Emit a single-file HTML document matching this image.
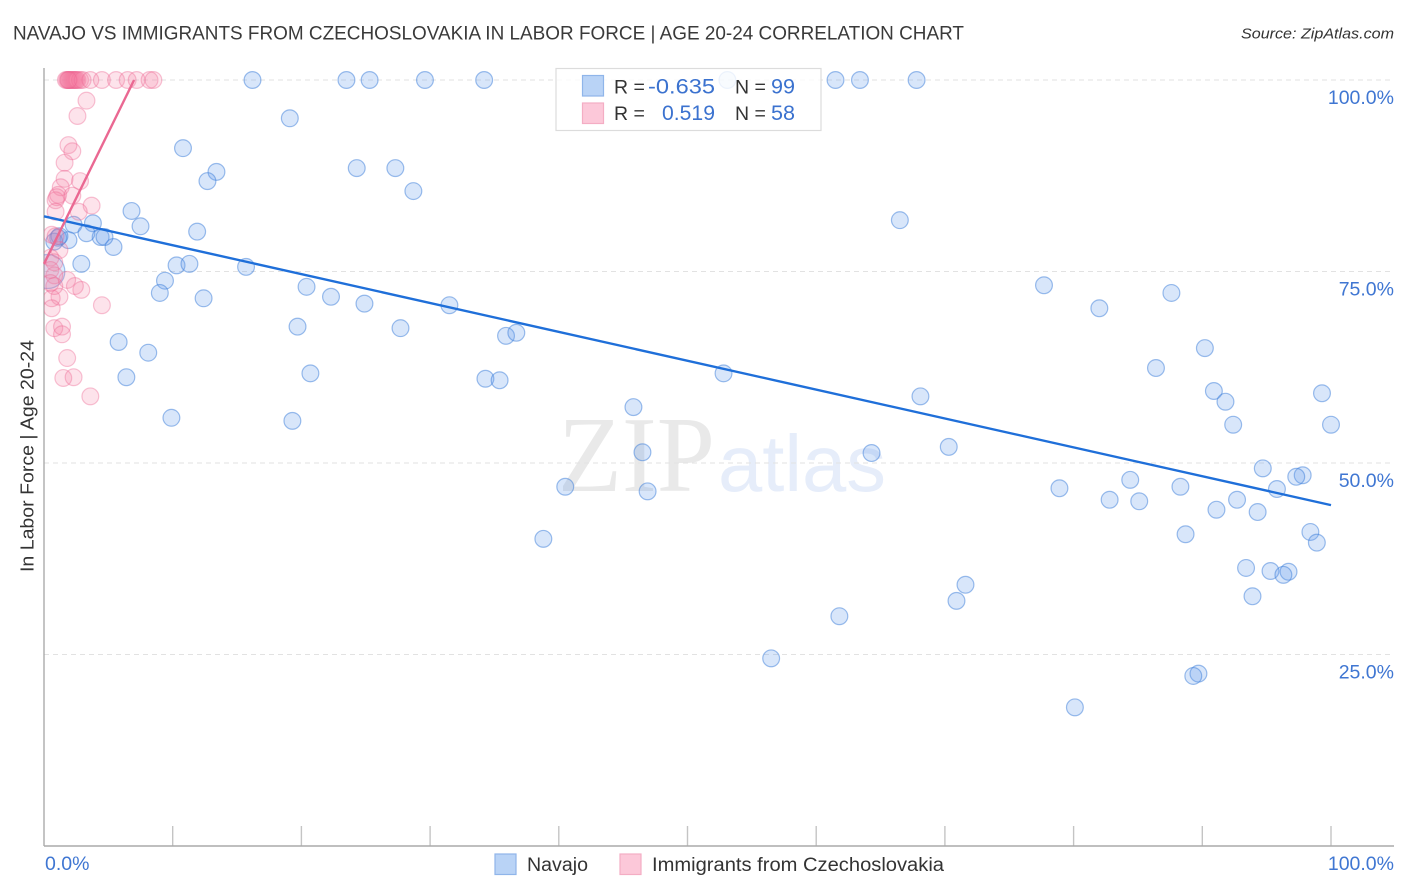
<!DOCTYPE html>
<html lang="en">
<head>
<meta charset="utf-8">
<title>Navajo vs Immigrants from Czechoslovakia in Labor Force | Age 20-24 Correlation Chart</title>
<style>
html,body{margin:0;padding:0;background:#fff;width:1406px;height:892px;overflow:hidden}
svg{display:block;font-family:"Liberation Sans",sans-serif}
</style>
</head>
<body>
<svg id="chart" xmlns="http://www.w3.org/2000/svg" width="1406" height="892" viewBox="0 0 1406 892">
  <defs>
    <clipPath id="plot-clip"><rect x="44" y="60" width="1350" height="786"/></clipPath>
  </defs>
  <text x="13" y="39.5" font-size="19" fill="#3a3a3a" textLength="951" lengthAdjust="spacingAndGlyphs">NAVAJO VS IMMIGRANTS FROM CZECHOSLOVAKIA IN LABOR FORCE | AGE 20-24 CORRELATION CHART</text>
  <text x="1394" y="38.5" font-size="15" font-style="italic" fill="#333" text-anchor="end" textLength="153" lengthAdjust="spacingAndGlyphs">Source: ZipAtlas.com</text>

  <g>
    <text x="558" y="491" font-family="'Liberation Serif',serif" font-size="108" fill="#e9e9e9" textLength="157" lengthAdjust="spacingAndGlyphs">ZIP</text>
    <text x="718" y="491" font-size="80" fill="#e6edfa" textLength="168" lengthAdjust="spacingAndGlyphs">atlas</text>
  </g>

  <g id="grid"></g>
  <g id="axes"></g>
  <g id="navajo-points" clip-path="url(#plot-clip)"></g>
  <g id="czech-points" clip-path="url(#plot-clip)"></g>
  <g id="trends"></g>
  <g id="tick-labels"></g>

  <text transform="translate(33.5,456) rotate(-90)" font-size="18.5" fill="#333" text-anchor="middle" textLength="232" lengthAdjust="spacingAndGlyphs">In Labor Force | Age 20-24</text>

  <g>
    <rect x="556" y="68.5" width="265" height="62" fill="#fff" fill-opacity="0.82" stroke="#dcdcdc" stroke-width="1.2"/>
    <rect x="582.5" y="75.5" width="21" height="20.5" fill="#b9d3f6" stroke="#8fb5ea" stroke-width="1.2"/>
    <rect x="582.5" y="103" width="21" height="20.5" fill="#fcc8d9" stroke="#f4adc4" stroke-width="1.2"/>
    <text x="614" y="93.5" font-size="19.5" fill="#333">R =</text>
    <text x="715" y="93.5" font-size="21" fill="#3b72cf" text-anchor="end" textLength="67" lengthAdjust="spacingAndGlyphs">-0.635</text>
    <text x="735" y="93.5" font-size="19.5" fill="#333">N =</text>
    <text x="795" y="93.5" font-size="21" fill="#3b72cf" text-anchor="end" textLength="24" lengthAdjust="spacingAndGlyphs">99</text>
    <text x="614" y="120" font-size="19.5" fill="#333">R =</text>
    <text x="715" y="120" font-size="21" fill="#3b72cf" text-anchor="end" textLength="53" lengthAdjust="spacingAndGlyphs">0.519</text>
    <text x="735" y="120" font-size="19.5" fill="#333">N =</text>
    <text x="795" y="120" font-size="21" fill="#3b72cf" text-anchor="end" textLength="24" lengthAdjust="spacingAndGlyphs">58</text>
  </g>

  <g>
    <rect x="495" y="854" width="21" height="20.5" fill="#b9d3f6" stroke="#8fb5ea" stroke-width="1.2"/>
    <text x="527" y="871" font-size="19" fill="#333" textLength="61" lengthAdjust="spacingAndGlyphs">Navajo</text>
    <rect x="620" y="854" width="21" height="20.5" fill="#fcc8d9" stroke="#f4adc4" stroke-width="1.2"/>
    <text x="652" y="871" font-size="19" fill="#333" textLength="292" lengthAdjust="spacingAndGlyphs">Immigrants from Czechoslovakia</text>
  </g>
</svg>
<script>
// Chart data (percent values)
const yTickValues = [100, 75, 50, 25];
const yTickLabels = ['100.0%', '75.0%', '50.0%', '25.0%'];
const xTickValues = [0, 10, 20, 30, 40, 50, 60, 70, 80, 90, 100];
const xEndValues = [0, 100];
const xEndLabels = ['0.0%', '100.0%'];

const navajoX = [16.2,23.5,25.3,29.6,34.2,53.1,61.5,63.4,67.8,
  19.1,10.8,13.4,12.7,24.3,27.3,28.7,6.8,7.5,3.8,2.3,11.9,66.5,5.4,4.4,4.7,3.3,1.9,1.1,2.9,10.3,11.3,15.7,9.4,9.0,12.4,20.4,22.3,24.9,31.5,
  77.7,82.0,87.6,19.7,27.7,35.9,36.7,5.8,8.1,6.4,20.7,34.3,35.4,52.8,90.2,86.4,90.9,91.8,68.1,99.3,45.8,9.9,19.3,92.4,100,46.5,64.3,70.3,
  94.7,97.8,97.3,95.8,78.9,84.4,88.3,40.5,46.9,82.8,85.1,92.7,91.1,94.3,88.7,98.4,98.9,38.8,93.4,95.3,96.7,96.3,71.6,70.9,93.9,61.8,56.5,89.7,89.3,80.1,
  0.8,1.2];
const navajoY = [100,100,100,100,100,100,100,100,100,
  95.0,91.1,88.0,86.8,88.5,88.5,85.5,82.9,80.9,81.3,81.1,80.2,81.7,78.2,79.5,79.5,80.0,79.1,79.4,76.0,75.8,76.0,75.6,73.8,72.2,71.5,73.0,71.7,70.8,70.6,
  73.2,70.2,72.2,67.8,67.6,66.6,67.0,65.8,64.4,61.2,61.7,61.0,60.8,61.7,65.0,62.4,59.4,58.0,58.7,59.1,57.3,55.9,55.5,55.0,55.0,51.4,51.3,52.1,
  49.3,48.4,48.2,46.6,46.7,47.8,46.9,46.9,46.3,45.2,45.0,45.2,43.9,43.6,40.7,41.0,39.6,40.1,36.3,35.9,35.8,35.4,34.1,32.0,32.6,30.0,24.5,22.5,22.2,18.1,
  78.9,79.6];
const navajoLargeX = [0.3];
const navajoLargeY = [75.0];

const czechX = [1.7,1.8,1.9,2.0,2.1,2.2,2.3,2.4,2.5,2.6,2.8,3.0,3.6,4.5,5.6,6.5,7.2,8.2,8.5,1.9,
  3.3,2.6,1.9,2.2,1.6,1.6,2.8,1.3,1.1,0.9,1.0,2.2,0.9,3.7,2.7,
  4.5,2.9,2.4,1.8,1.2,0.6,0.6,0.8,1.4,1.4,1.8,1.5,2.3,3.6,
  0.6,0.9,1.2,0.5,0.8,0.5,0.8,0.5,0.8];
const czechY = [100,100,100,100,100,100,100,100,100,100,100,100,100,100,100,100,100,100,100,100,
  97.3,95.3,91.5,90.7,89.2,87.1,86.8,86.0,85.0,84.3,84.7,84.9,82.8,83.6,82.8,
  70.6,72.6,73.1,73.9,71.7,71.5,70.2,67.6,67.8,66.8,63.7,61.1,61.2,58.7,
  79.8,79.6,77.8,76.8,76.2,75.2,74.5,73.5,73.1];

const navajoTrendX = [0, 100];
const navajoTrendY = [82.2, 44.5];
const czechTrendX = [0, 7.0];
const czechTrendY = [76.0, 100];

const SVGNS = 'http://www.w3.org/2000/svg';
function sx(v) { return 44 + v * 12.87; }
function sy(v) { return 846 - v * 7.66; }
function make(tag, attrs, parent) {
  const el = document.createElementNS(SVGNS, tag);
  for (const k in attrs) el.setAttribute(k, attrs[k]);
  parent.appendChild(el);
  return el;
}

const gridG = document.getElementById('grid');
const axesG = document.getElementById('axes');
const labelG = document.getElementById('tick-labels');
const navG = document.getElementById('navajo-points');
const czG = document.getElementById('czech-points');
const trendG = document.getElementById('trends');

yTickValues.forEach(function (v, i) {
  const line = make('line', {x1: 44, x2: 1394, y1: sy(v), y2: sy(v), stroke: '#e2e2e2', 'stroke-width': 1, 'stroke-dasharray': '5 4'}, gridG);
  
  
  const label = make('text', {x: 1394, y: sy(v) + 24, 'font-size': 19.5, fill: '#3f76d2', 'text-anchor': 'end'}, labelG);
  label.textContent = yTickLabels[i];
  
  
});

xTickValues.forEach(function (v) {
  if (v === 0) return;
  const tick = make('line', {x1: sx(v), x2: sx(v), y1: 826, y2: 846, stroke: '#c4c4c4', 'stroke-width': 1.4}, axesG);
  
  
});

xEndValues.forEach(function (v, i) {
  const label = make('text', {x: i === 0 ? sx(v) + 1 : 1394, y: 870, 'font-size': 19.5, fill: '#3f76d2', 'text-anchor': i === 0 ? 'start' : 'end'}, labelG);
  label.textContent = xEndLabels[i];
  
  
});

const yAxis = make('line', {x1: 44, x2: 44, y1: 68, y2: 846, stroke: '#aaa', 'stroke-width': 1.4}, axesG);


const xAxis = make('line', {x1: 44, x2: 1394, y1: 846, y2: 846, stroke: '#aaa', 'stroke-width': 1.4}, axesG);



navajoLargeX.forEach(function (v, i) {
  const c = make('circle', {cx: sx(v), cy: sy(navajoLargeY[i]), r: 17, fill: 'rgba(92,150,232,0.2)', stroke: 'rgba(58,124,216,0.45)', 'stroke-width': 1.2}, navG);
  
  
});
navajoX.forEach(function (v, i) {
  const c = make('circle', {cx: sx(v), cy: sy(navajoY[i]), r: 8.4, fill: 'rgba(100,155,235,0.25)', stroke: 'rgba(60,125,218,0.5)', 'stroke-width': 1.2}, navG);
  
  
});
czechX.forEach(function (v, i) {
  const c = make('circle', {cx: sx(v), cy: sy(czechY[i]), r: 8.4, fill: 'rgba(244,128,165,0.22)', stroke: 'rgba(236,100,145,0.38)', 'stroke-width': 1.2}, czG);
  
  
});

const navajoTrend = make('line', {x1: sx(navajoTrendX[0]), y1: sy(navajoTrendY[0]), x2: sx(navajoTrendX[1]), y2: sy(navajoTrendY[1]), stroke: '#1f6fd9', 'stroke-width': 2.4}, trendG);


const czechTrend = make('line', {x1: sx(czechTrendX[0]), y1: sy(czechTrendY[0]), x2: sx(czechTrendX[1]), y2: sy(czechTrendY[1]), stroke: '#ea6892', 'stroke-width': 2.4}, trendG);


</script>
</body>
</html>
